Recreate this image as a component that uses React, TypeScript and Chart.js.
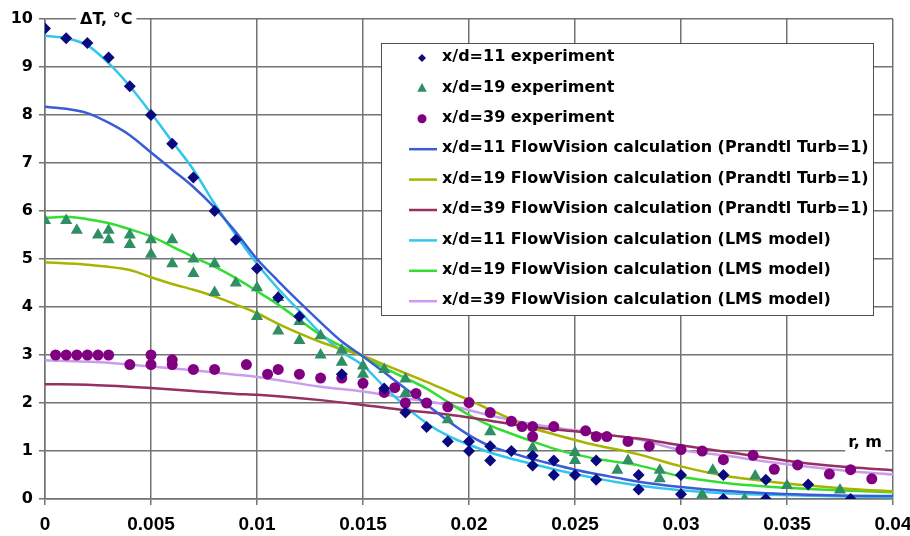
import React, { useEffect, useRef } from "react";
import { Chart, registerables } from "chart.js";

Chart.register(...registerables);

const xTicks = [0, 0.005, 0.01, 0.015, 0.02, 0.025, 0.03, 0.035, 0.04];
const yTicks = [0, 1, 2, 3, 4, 5, 6, 7, 8, 9, 10];

const seriesNames = [
  "x/d=11 experiment",
  "x/d=19 experiment",
  "x/d=39 experiment",
  "x/d=11 FlowVision calculation (Prandtl Turb=1)",
  "x/d=19 FlowVision calculation (Prandtl Turb=1)",
  "x/d=39 FlowVision calculation (Prandtl Turb=1)",
  "x/d=11 FlowVision calculation (LMS model)",
  "x/d=19 FlowVision calculation (LMS model)",
  "x/d=39 FlowVision calculation (LMS model)",
];

const exp11: [number, number][] = [
  [0, 9.8], [0.001, 9.6], [0.002, 9.5], [0.003, 9.2], [0.004, 8.6], [0.005, 8.0],
  [0.006, 7.4], [0.007, 6.7], [0.008, 6.0], [0.009, 5.4], [0.01, 4.8], [0.011, 4.2],
  [0.012, 3.8], [0.014, 2.6], [0.016, 2.3], [0.017, 1.8], [0.018, 1.5], [0.019, 1.2],
  [0.02, 1.2], [0.02, 1.0], [0.021, 1.1], [0.021, 0.8], [0.022, 1.0], [0.023, 0.9],
  [0.023, 0.7], [0.024, 0.8], [0.024, 0.5], [0.025, 0.5], [0.026, 0.8], [0.026, 0.4],
  [0.028, 0.5], [0.028, 0.2], [0.03, 0.5], [0.03, 0.1], [0.032, 0.5], [0.032, 0.0],
  [0.034, 0.4], [0.034, 0.0], [0.036, 0.3], [0.038, 0.0],
];

const exp19: [number, number][] = [
  [0, 5.8], [0.001, 5.8], [0.0015, 5.6], [0.0025, 5.5], [0.003, 5.6], [0.003, 5.4],
  [0.004, 5.5], [0.004, 5.3], [0.005, 5.4], [0.005, 5.1], [0.006, 5.4], [0.006, 4.9],
  [0.007, 5.0], [0.007, 4.7], [0.008, 4.9], [0.008, 4.3], [0.009, 4.5], [0.01, 4.4],
  [0.01, 3.8], [0.011, 4.2], [0.011, 3.5], [0.012, 3.7], [0.012, 3.3], [0.013, 3.4],
  [0.013, 3.0], [0.014, 3.1], [0.014, 2.85], [0.015, 2.77], [0.015, 2.6], [0.016, 2.7],
  [0.017, 2.5], [0.017, 2.2], [0.019, 1.65], [0.021, 1.4], [0.023, 1.07], [0.025, 0.97],
  [0.025, 0.8], [0.027, 0.6], [0.0275, 0.8], [0.029, 0.6], [0.029, 0.42], [0.031, 0.09],
  [0.0315, 0.6], [0.033, 0.0], [0.0335, 0.48], [0.035, 0.28], [0.0375, 0.19],
];

const exp39: [number, number][] = [
  [0.0005, 3.0], [0.001, 3.0], [0.0015, 3.0], [0.002, 3.0], [0.0025, 3.0], [0.003, 3.0],
  [0.004, 2.8], [0.005, 3.0], [0.005, 2.8], [0.006, 2.9], [0.006, 2.8], [0.007, 2.7],
  [0.008, 2.7], [0.0095, 2.8], [0.0105, 2.6], [0.011, 2.7], [0.012, 2.6], [0.013, 2.52],
  [0.014, 2.52], [0.015, 2.41], [0.016, 2.22], [0.0165, 2.32], [0.017, 2.0], [0.0175, 2.2],
  [0.018, 2.0], [0.019, 1.92], [0.02, 2.01], [0.021, 1.8], [0.022, 1.62], [0.0225, 1.51],
  [0.023, 1.51], [0.023, 1.3], [0.024, 1.51], [0.0255, 1.42], [0.026, 1.3], [0.0265, 1.3],
  [0.0275, 1.2], [0.0285, 1.1], [0.03, 1.03], [0.031, 1.0], [0.032, 0.82], [0.0334, 0.91],
  [0.0344, 0.62], [0.0355, 0.71], [0.037, 0.52], [0.038, 0.61], [0.039, 0.42],
];

const prandtl11: [number, number][] = [
  [0, 8.17], [0.001, 8.13], [0.002, 8.04], [0.003, 7.84], [0.004, 7.58], [0.005, 7.22],
  [0.006, 6.86], [0.007, 6.5], [0.008, 6.07], [0.009, 5.56], [0.01, 5.0], [0.011, 4.54],
  [0.012, 4.1], [0.013, 3.68], [0.014, 3.28], [0.015, 2.97], [0.016, 2.64], [0.017, 2.3],
  [0.018, 1.97], [0.019, 1.63], [0.02, 1.33], [0.021, 1.1], [0.022, 0.96], [0.023, 0.83],
  [0.024, 0.72], [0.025, 0.61], [0.026, 0.52], [0.027, 0.44], [0.028, 0.36], [0.03, 0.25],
  [0.032, 0.17], [0.034, 0.12], [0.036, 0.09], [0.038, 0.07], [0.04, 0.06],
];

const prandtl19: [number, number][] = [
  [0, 4.93], [0.002, 4.88], [0.004, 4.77], [0.005, 4.62], [0.006, 4.48], [0.007, 4.36],
  [0.008, 4.22], [0.009, 4.05], [0.01, 3.87], [0.011, 3.65], [0.012, 3.45], [0.013, 3.27],
  [0.014, 3.12], [0.015, 2.98], [0.016, 2.8], [0.017, 2.62], [0.018, 2.44], [0.019, 2.25],
  [0.02, 2.06], [0.021, 1.86], [0.022, 1.66], [0.023, 1.48], [0.024, 1.35], [0.025, 1.23],
  [0.026, 1.12], [0.027, 1.03], [0.028, 0.93], [0.03, 0.68], [0.032, 0.49], [0.034, 0.37],
  [0.036, 0.28], [0.038, 0.21], [0.04, 0.16],
];

const prandtl39: [number, number][] = [
  [0, 2.39], [0.002, 2.38], [0.005, 2.31], [0.007, 2.25], [0.009, 2.19], [0.01, 2.17],
  [0.013, 2.06], [0.015, 1.96], [0.017, 1.85], [0.019, 1.76], [0.021, 1.63], [0.023, 1.5],
  [0.025, 1.41], [0.027, 1.31], [0.028, 1.26], [0.03, 1.12], [0.032, 0.99], [0.034, 0.86],
  [0.036, 0.74], [0.038, 0.66], [0.04, 0.6],
];

const lms11: [number, number][] = [
  [0, 9.65], [0.001, 9.6], [0.002, 9.45], [0.003, 9.08], [0.004, 8.6], [0.005, 8.04],
  [0.006, 7.45], [0.007, 6.86], [0.008, 6.15], [0.009, 5.5], [0.01, 4.9], [0.011, 4.38],
  [0.012, 3.92], [0.013, 3.45], [0.014, 3.07], [0.015, 2.78], [0.016, 2.34], [0.017, 1.93],
  [0.018, 1.58], [0.019, 1.32], [0.02, 1.13], [0.021, 0.97], [0.022, 0.84], [0.023, 0.73],
  [0.024, 0.62], [0.025, 0.52], [0.026, 0.43], [0.027, 0.35], [0.028, 0.28], [0.03, 0.18],
  [0.032, 0.12], [0.034, 0.09], [0.036, 0.07], [0.038, 0.05], [0.04, 0.04],
];

const lms19: [number, number][] = [
  [0, 5.85], [0.001, 5.88], [0.002, 5.83], [0.003, 5.75], [0.004, 5.62], [0.005, 5.47],
  [0.006, 5.26], [0.007, 5.04], [0.008, 4.84], [0.009, 4.6], [0.01, 4.33], [0.011, 4.05],
  [0.012, 3.73], [0.013, 3.42], [0.014, 3.18], [0.015, 2.98], [0.016, 2.73], [0.017, 2.52],
  [0.018, 2.3], [0.019, 2.02], [0.02, 1.75], [0.021, 1.53], [0.022, 1.36], [0.023, 1.2],
  [0.024, 1.05], [0.025, 0.93], [0.026, 0.84], [0.027, 0.77], [0.028, 0.7], [0.03, 0.47],
  [0.032, 0.34], [0.034, 0.26], [0.036, 0.21], [0.038, 0.17], [0.04, 0.14],
];

const lms39: [number, number][] = [
  [0, 2.89], [0.003, 2.84], [0.005, 2.76], [0.007, 2.68], [0.009, 2.59], [0.01, 2.54],
  [0.013, 2.34], [0.015, 2.24], [0.017, 2.1], [0.019, 1.96], [0.021, 1.74], [0.023, 1.56],
  [0.025, 1.43], [0.027, 1.31], [0.028, 1.24], [0.03, 1.02], [0.032, 0.91], [0.034, 0.78],
  [0.036, 0.67], [0.038, 0.58], [0.04, 0.51],
];

const colors = [
  "#0a0a80", "#2f8f63", "#800080",
  "#3a5cd6", "#a8b400", "#963060",
  "#33c6ea", "#33dd33", "#c99cee",
];

const pts = (a: [number, number][]) => a.map(([x, y]) => ({ x, y }));

function drawMarker(ctx: CanvasRenderingContext2D, style: string, x: number, y: number, r: number) {
  ctx.beginPath();
  if (style === "rectRot") {
    ctx.moveTo(x, y - r);
    ctx.lineTo(x + r, y);
    ctx.lineTo(x, y + r);
    ctx.lineTo(x - r, y);
  } else if (style === "triangle") {
    ctx.moveTo(x, y - r);
    ctx.lineTo(x + r * 0.866, y + r * 0.6);
    ctx.lineTo(x - r * 0.866, y + r * 0.6);
  } else {
    ctx.arc(x, y, r, 0, Math.PI * 2);
  }
  ctx.closePath();
  ctx.fill();
}

const overlayPlugin = {
  id: "overlay",
  afterDraw(chart: any) {
    const ctx: CanvasRenderingContext2D = chart.ctx;
    const area = chart.chartArea;
    const ys = chart.scales.y;
    ctx.save();
    // axis titles
    ctx.font = 'bold 16px "DejaVu Sans", Verdana, sans-serif';
    ctx.textBaseline = "middle";
    const t1 = "ΔT, °C";
    const w1 = ctx.measureText(t1).width;
    const x1 = area.left + 35;
    ctx.fillStyle = "#ffffff";
    ctx.fillRect(x1 - 4, area.top - 8, w1 + 8, 16);
    ctx.fillStyle = "#000000";
    ctx.fillText(t1, x1, area.top + 0.5);

    const t2 = "r, m";
    const w2 = ctx.measureText(t2).width;
    const x2 = area.right - 11 - w2;
    const y2 = ys.getPixelForValue(1);
    ctx.fillStyle = "#ffffff";
    ctx.fillRect(x2 - 3, y2 - 16, w2 + 6, 18);
    ctx.fillStyle = "#000000";
    ctx.fillText(t2, x2, y2 - 8);

    // legend
    const lx = area.left + 336;
    const ly = area.top + 24;
    const lw = area.right - 20 - lx;
    const lh = 272;
    ctx.fillStyle = "#ffffff";
    ctx.fillRect(lx, ly, lw, lh);
    ctx.strokeStyle = "#505050";
    ctx.lineWidth = 1;
    ctx.strokeRect(lx + 0.5, ly + 0.5, lw, lh);
    ctx.font = 'bold 16px "DejaVu Sans", Verdana, sans-serif';
    ctx.textBaseline = "middle";
    const markerStyles = ["rectRot", "triangle", "circle"];
    const markerSizes = [4, 5.5, 4.5];
    chart.data.datasets.forEach((ds: any, i: number) => {
      const cy = ly + 14 + i * 30.4;
      if (i < 3) {
        ctx.fillStyle = ds.backgroundColor;
        drawMarker(ctx, markerStyles[i], lx + 41, cy + 1, markerSizes[i]);
      } else {
        ctx.strokeStyle = ds.borderColor;
        ctx.lineWidth = 2.5;
        ctx.beginPath();
        ctx.moveTo(lx + 28, cy + 1);
        ctx.lineTo(lx + 56, cy + 1);
        ctx.stroke();
      }
      ctx.fillStyle = "#000000";
      ctx.fillText(ds.label, lx + 61, cy);
    });
    ctx.restore();
  },
};

export default function App() {
  const ref = useRef<HTMLCanvasElement | null>(null);
  useEffect(() => {
    document.body.style.margin = "0";
    const canvas = ref.current;
    if (!canvas) return;
    const lineSeries = [prandtl11, prandtl19, prandtl39, lms11, lms19, lms39];
    const expSeries = [exp11, exp19, exp39];
    const pointStyles = ["rectRot", "triangle", "circle"];
    const pointRadii = [6, 7, 5.5];
    const datasets: any[] = [
      ...expSeries.map((s, i) => ({
        label: seriesNames[i],
        data: pts(s),
        showLine: false,
        pointStyle: pointStyles[i],
        pointRadius: pointRadii[i],
        pointHoverRadius: pointRadii[i],
        backgroundColor: colors[i],
        borderColor: colors[i],
        pointBorderWidth: 0,
      })),
      ...lineSeries.map((s, j) => ({
        label: seriesNames[j + 3],
        data: pts(s),
        showLine: true,
        pointRadius: 0,
        borderColor: colors[j + 3],
        backgroundColor: colors[j + 3],
        borderWidth: 2.5,
        cubicInterpolationMode: "monotone",
        fill: false,
      })),
    ];
    const gridColor = "#737373";
    const chart = new Chart(canvas, {
      type: "scatter",
      data: { datasets },
      options: {
        animation: false,
        responsive: false,
        devicePixelRatio: 1,
        layout: { padding: { top: 19, right: 17, left: 0, bottom: 0 } },
        plugins: { legend: { display: false }, tooltip: { enabled: false } },
        scales: {
          x: {
            type: "linear",
            min: 0,
            max: 0.04,
            afterBuildTicks: (s: any) => {
              s.ticks = xTicks.map((v) => ({ value: v }));
            },
            afterFit: (s: any) => {
              s.height = 37;
              s.paddingLeft = 0;
              s.paddingRight = 0;
            },
            ticks: {
              callback: (v: any) => String(+Number(v).toFixed(3)),
              font: { family: '"Liberation Sans", Arial, sans-serif', size: 19, weight: "bold" },
              color: "#000000",
              padding: 8,
              maxRotation: 0,
              autoSkip: false,
            },
            grid: { color: gridColor, lineWidth: 1.5, tickLength: 6, tickColor: gridColor },
            border: { color: gridColor, width: 1.5 },
          },
          y: {
            type: "linear",
            min: 0,
            max: 10,
            afterBuildTicks: (s: any) => {
              s.ticks = yTicks.map((v) => ({ value: v }));
            },
            afterFit: (s: any) => {
              s.width = 45;
              s.paddingTop = 0;
              s.paddingBottom = 0;
            },
            ticks: {
              font: { family: '"DejaVu Sans", Verdana, sans-serif', size: 16, weight: "bold" },
              color: "#000000",
              padding: 6,
            },
            grid: { color: gridColor, lineWidth: 1.5, tickLength: 6, tickColor: gridColor },
            border: { color: gridColor, width: 1.5 },
          },
        },
      },
      plugins: [overlayPlugin],
    });
    return () => chart.destroy();
  }, []);
  return (
    <canvas
      ref={ref}
      width={910}
      height={536}
      style={{ display: "block", width: 910, height: 536 }}
    />
  );
}
